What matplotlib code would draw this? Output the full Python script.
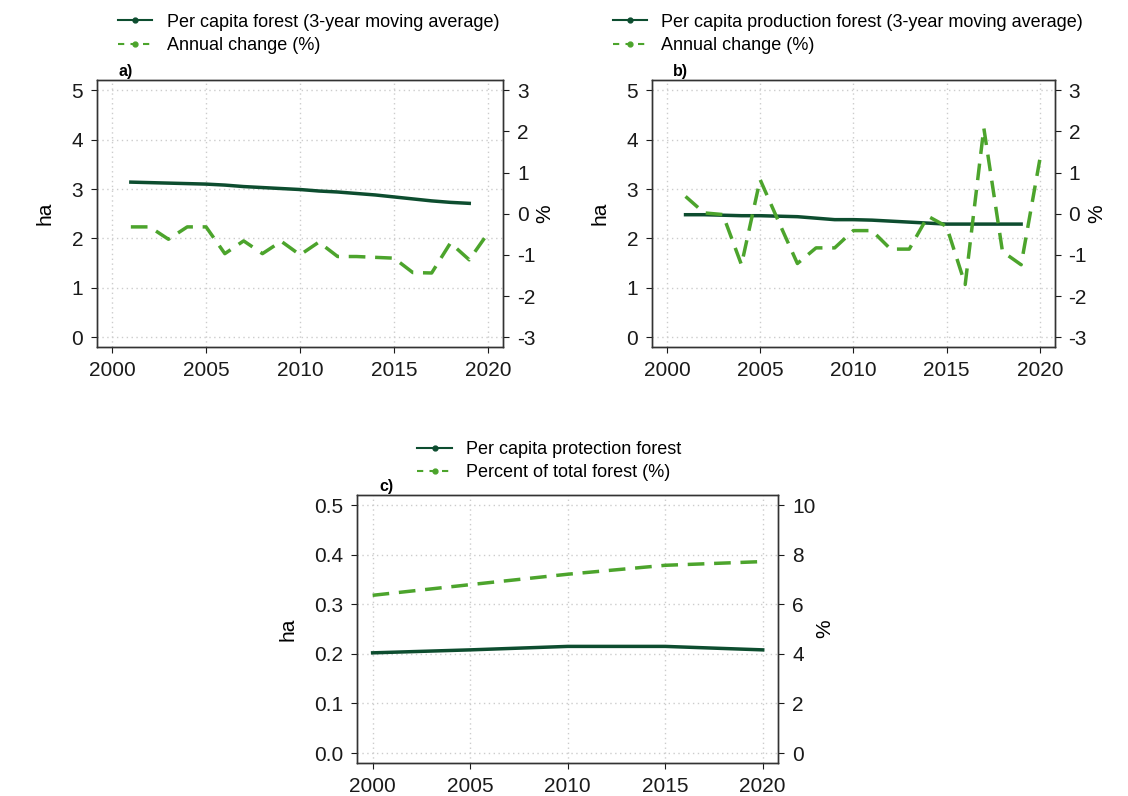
import matplotlib.pyplot as plt
from matplotlib.lines import Line2D

# Per capita forest area and annual change
years_a = [2001, 2002, 2003, 2004, 2005, 2006, 2007, 2008, 2009, 2010,
           2011, 2012, 2013, 2014, 2015, 2016, 2017, 2018, 2019, 2020]
forest_ha = [3.14, 3.13, 3.12, 3.11, 3.10, 3.08, 3.05, 3.03, 3.01, 2.99,
             2.96, 2.94, 2.91, 2.88, 2.84, 2.80, 2.76, 2.73, 2.71, None]
forest_chg = [-0.32, -0.32, -0.62, -0.32, -0.32, -0.97, -0.66, -0.97, -0.67, -1.00,
              -0.69, -1.04, -1.04, -1.06, -1.08, -1.43, -1.44, -0.71, -1.12, -0.47]

# Per capita production forest and annual change
prod_ha = [2.48, 2.48, 2.47, 2.46, 2.46, 2.45, 2.44, 2.41, 2.38, 2.38,
           2.37, 2.35, 2.33, 2.31, 2.29, 2.29, 2.29, 2.29, 2.29, None]
prod_chg = [0.42, 0.02, -0.02, -1.24, 0.83, -0.20, -1.21, -0.83, -0.83, -0.41,
            -0.41, -0.86, -0.86, -0.06, -0.31, -1.72, 2.08, -0.92, -1.24, 1.31]

# Per capita protection forest and share of total forest
years_c = [2000, 2005, 2010, 2015, 2020]
protect_ha = [0.202, 0.208, 0.215, 0.215, 0.208]
protect_pct = [6.36, 6.79, 7.21, 7.57, 7.72]

dark = '#0d4d2f'
light = '#4ca42c'
dash = (0, (4.8, 2.8))

plt.rcParams['font.family'] = ['Liberation Sans', 'DejaVu Sans']
plt.rcParams['axes.unicode_minus'] = False

fig = plt.figure(figsize=(11.28, 7.96), dpi=100)


def style(ax, ax2, ylim, ylim2, yticks, yticks2, ytl=None):
    ax.set_xlim(1999.2, 2020.8)
    ax.set_xticks([2000, 2005, 2010, 2015, 2020])
    ax.set_ylim(*ylim)
    ax.set_yticks(yticks)
    if ytl is not None:
        ax.set_yticklabels(ytl)
    ax2.set_ylim(*ylim2)
    ax2.set_yticks(yticks2)
    ax.grid(True, color='#cccccc', linestyle=(0, (1, 2.5)), linewidth=1)
    ax.set_axisbelow(True)
    for a in (ax, ax2):
        a.tick_params(labelsize=15, length=4, width=0.8, pad=6, colors='#1a1a1a')
        for s in a.spines.values():
            s.set_color('#333333')
            s.set_linewidth(1)
    ax.set_ylabel('ha', fontsize=15, labelpad=12)
    ax2.set_ylabel('%', fontsize=15, labelpad=0, rotation=90)


def legend(labels, x, y):
    handles = [Line2D([], [], color=dark, lw=1.5, marker='o', markersize=3.5),
               Line2D([], [], color=light, lw=1.5, ls=(0, (3, 3)), marker='o', markersize=3.5)]
    fig.legend(handles, labels, loc='upper left', bbox_to_anchor=(x, y),
               frameon=False, fontsize=13, handlelength=1.9, handletextpad=0.8,
               labelspacing=0.35, borderaxespad=0, borderpad=0)


# a) total forest
ax_a = fig.add_axes([0.086, 0.564, 0.36, 0.335])
ax_a2 = ax_a.twinx()
ax_a.plot(years_a, forest_ha, color=dark, lw=2.5)
ax_a2.plot(years_a, forest_chg, color=light, lw=2.5, ls=dash)
style(ax_a, ax_a2, (-0.2, 5.2), (-3.24, 3.24), range(0, 6), range(-3, 4))
ax_a.text(0.052, 1.015, 'a)', transform=ax_a.transAxes, fontsize=11.5, fontweight='bold')
legend(['Per capita forest (3-year moving average)', 'Annual change (%)'], 0.1046, 0.983)

# b) production forest
ax_b = fig.add_axes([0.578, 0.564, 0.357, 0.335])
ax_b2 = ax_b.twinx()
ax_b.plot(years_a, prod_ha, color=dark, lw=2.5)
ax_b2.plot(years_a, prod_chg, color=light, lw=2.5, ls=dash)
style(ax_b, ax_b2, (-0.2, 5.2), (-3.24, 3.24), range(0, 6), range(-3, 4))
ax_b.text(0.052, 1.015, 'b)', transform=ax_b.transAxes, fontsize=11.5, fontweight='bold')
legend(['Per capita production forest (3-year moving average)', 'Annual change (%)'], 0.543, 0.983)

# c) protection forest
ax_c = fig.add_axes([0.3165, 0.0415, 0.3735, 0.3365])
ax_c2 = ax_c.twinx()
ax_c.plot(years_c, protect_ha, color=dark, lw=2.5)
ax_c2.plot(years_c, protect_pct, color=light, lw=2.5, ls=dash)
style(ax_c, ax_c2, (-0.02, 0.52), (-0.4, 10.4), [0, 0.1, 0.2, 0.3, 0.4, 0.5], range(0, 11, 2),
      ytl=['0.0', '0.1', '0.2', '0.3', '0.4', '0.5'])
ax_c.text(0.052, 1.015, 'c)', transform=ax_c.transAxes, fontsize=11.5, fontweight='bold')
legend(['Per capita protection forest', 'Percent of total forest (%)'], 0.370, 0.446)

fig.savefig('out.png', dpi=100)
